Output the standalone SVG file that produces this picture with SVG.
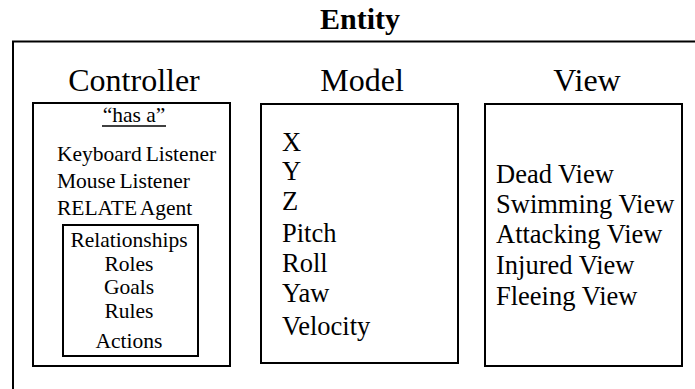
<svg xmlns="http://www.w3.org/2000/svg" width="695" height="389" viewBox="0 0 695 389">
<rect width="695" height="389" fill="#fff"/>
<g font-family="Liberation Serif, serif" fill="#000">
<g id="entity">
<text x="360" y="29" font-size="30" font-weight="bold" text-anchor="middle">Entity</text>
<path d="M13,390 V41.5 H700" fill="none" stroke="#000" stroke-width="2"/>
</g>
<g id="controller">
<text font-size="32" text-anchor="middle" x="134" y="91">Controller</text>
<rect fill="none" stroke="#000" stroke-width="2" x="33" y="103" width="197" height="263"/>
<text font-size="21.5" text-anchor="middle" x="134" y="122">“has a”</text>
<line x1="102" y1="126" x2="166" y2="126" stroke="#000" stroke-width="1.5"/>
<g font-size="21.5" word-spacing="-1.5">
<text x="57" y="161">Keyboard Listener</text>
<text x="57" y="188">Mouse Listener</text>
<text x="57" y="215">RELATE Agent</text>
</g>
</g>
<g id="agent" font-size="21.5" text-anchor="middle">
<rect fill="none" stroke="#000" stroke-width="2" x="63" y="225" width="135" height="131"/>
<text x="129" y="247">Relationships</text>
<text x="129" y="271">Roles</text>
<text x="129" y="294">Goals</text>
<text x="129" y="318">Rules</text>
<text x="129" y="348">Actions</text>
</g>
<g id="model">
<text font-size="32" text-anchor="middle" x="362" y="91">Model</text>
<rect fill="none" stroke="#000" stroke-width="2" x="261" y="104" width="197" height="259"/>
<g font-size="26.5">
<text x="282" y="151">X</text>
<text x="282" y="180">Y</text>
<text x="282" y="210">Z</text>
<text x="282" y="242">Pitch</text>
<text x="282" y="272">Roll</text>
<text x="282" y="302">Yaw</text>
<text x="282" y="335">Velocity</text>
</g>
</g>
<g id="view">
<text font-size="32" text-anchor="middle" x="587" y="91">View</text>
<rect fill="none" stroke="#000" stroke-width="2" x="485" y="104" width="197" height="262"/>
<g font-size="26.5">
<text x="496" y="183">Dead View</text>
<text x="496" y="213">Swimming View</text>
<text x="496" y="243">Attacking View</text>
<text x="496" y="274">Injured View</text>
<text x="496" y="305">Fleeing View</text>
</g>
</g>
</g>
</svg>
